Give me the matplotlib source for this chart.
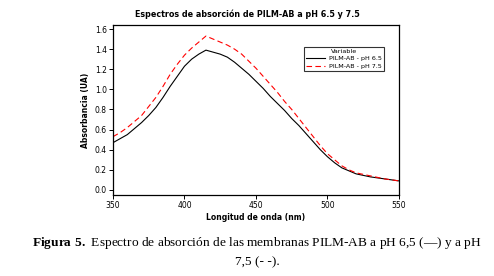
import matplotlib.pyplot as plt

plt.rcParams["mathtext.fontset"] = "custom"
plt.rcParams["mathtext.rm"] = "Liberation Serif"
plt.rcParams["mathtext.bf"] = "Liberation Serif:bold"

wavelength = [350, 355, 360, 365, 370, 375, 380, 385, 390, 395, 400, 405, 410, 415,
              420, 425, 430, 435, 440, 445, 450, 455, 460, 465, 470, 475, 480, 485,
              490, 495, 500, 505, 510, 515, 520, 525, 530, 535, 540, 545, 550]
abs_ph65 = [0.47, 0.51, 0.55, 0.61, 0.67, 0.74, 0.82, 0.92, 1.03, 1.13, 1.23, 1.30, 1.35, 1.39,
            1.37, 1.35, 1.32, 1.27, 1.21, 1.15, 1.08, 1.01, 0.93, 0.86, 0.79, 0.71, 0.64, 0.56,
            0.48, 0.40, 0.33, 0.27, 0.22, 0.19, 0.16, 0.145, 0.13, 0.12, 0.11, 0.10, 0.09]
abs_ph75 = [0.53, 0.57, 0.62, 0.68, 0.74, 0.83, 0.92, 1.03, 1.15, 1.25, 1.34, 1.41, 1.47, 1.53,
            1.50, 1.47, 1.44, 1.40, 1.35, 1.28, 1.21, 1.13, 1.05, 0.97, 0.88, 0.80, 0.71, 0.62,
            0.53, 0.44, 0.36, 0.30, 0.24, 0.20, 0.17, 0.155, 0.14, 0.125, 0.11, 0.10, 0.09]
x_ticks = [350, 400, 450, 500, 550]
y_ticks = [0.0, 0.2, 0.4, 0.6, 0.8, 1.0, 1.2, 1.4, 1.6]

fig = plt.figure(figsize=(4.94, 2.76), dpi=100)
ax = fig.add_axes([0.2287, 0.2935, 0.579, 0.616])

ax.plot(wavelength, abs_ph65, color="black", lw=0.8, label="PILM-AB - pH 6.5")
ax.plot(wavelength, abs_ph75, color="red", lw=0.8, ls=(0, (5, 3)), label="PILM-AB - pH 7.5")

ax.set_xlim(350, 550)
ax.set_ylim(-0.05, 1.64)
ax.set_xticks(x_ticks)
ax.set_yticks(y_ticks)
ax.set_yticklabels(["%.1f" % v for v in y_ticks])
ax.tick_params(labelsize=5.5, length=3, width=0.7, direction="out", pad=1.5)
for s in ax.spines.values():
    s.set_linewidth(0.9)

ax.set_xlabel("Longitud de onda (nm)", fontsize=5.5, fontweight="bold", labelpad=2)
ax.set_ylabel("Absorbancia (UA)", fontsize=5.5, fontweight="bold", labelpad=3)
fig.text(0.5, 0.95, "Espectros de absorción de PILM-AB a pH 6.5 y 7.5",
         ha="center", va="center", fontsize=5.8, fontweight="bold")

leg = ax.legend(title="Variable", fontsize=4.6, title_fontsize=4.6, loc="upper left",
                bbox_to_anchor=(0.655, 0.89), frameon=True, fancybox=False,
                edgecolor="black", handlelength=3.0, borderpad=0.35, labelspacing=0.3,
                handletextpad=0.6)
leg.get_frame().set_linewidth(0.8)

fig.text(0.52, 0.118, r"$\bf{Figura\ 5.}$ Espectro de absorción de las membranas PILM-AB a pH 6,5 (—) y a pH",
         ha="center", va="center", fontsize=9.6, family="Liberation Serif")
fig.text(0.52, 0.05, "7,5 (- -).", ha="center", va="center", fontsize=9.6,
         family="Liberation Serif")

fig.savefig("out.png", dpi=100)
